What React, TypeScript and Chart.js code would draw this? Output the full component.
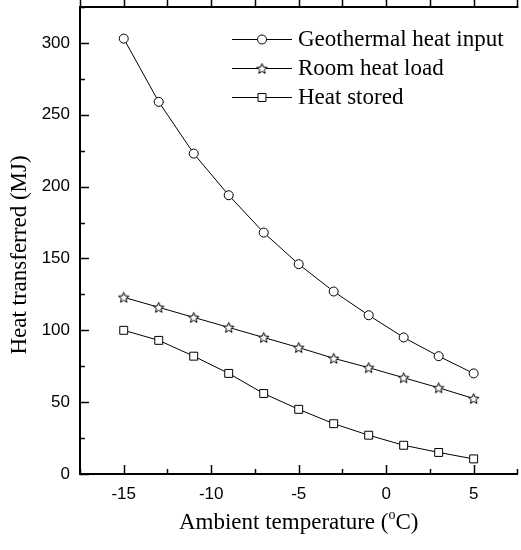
import React, { useEffect, useRef } from 'react';
import { Chart, registerables } from 'chart.js';

Chart.register(...registerables);

const temperatures = [-15, -13, -11, -9, -7, -5, -3, -1, 1, 3, 5];
const geothermalHeatInput = [303, 259, 223, 194, 168, 146, 127, 110.5, 95, 82, 70];
const roomHeatLoad = [123, 116, 109, 102, 95, 88, 80.5, 74, 67, 60, 52.5];
const heatStored = [100, 93, 82, 70, 56, 45, 35, 27, 20, 15, 10.5];
const seriesLabels = ['Geothermal heat input', 'Room heat load', 'Heat stored'];
const xTickValues = [-15, -10, -5, 0, 5];
const xMinorTickValues = [-17.5, -12.5, -7.5, -2.5, 2.5, 7.5];
const yTickValues = [0, 50, 100, 150, 200, 250, 300];
const yMinorTickValues = [25, 75, 125, 175, 225, 275, 325];
const xTitleParts = ['Ambient temperature (', 'o', 'C)'];
const yTitle = 'Heat transferred (MJ)';

const SERIF = '"Liberation Serif", "Times New Roman", serif';
const SANS = '"Liberation Sans", Arial, sans-serif';

function makeStar(): HTMLCanvasElement {
  const c = document.createElement('canvas');
  c.width = 13;
  c.height = 13;
  const ctx = c.getContext('2d')!;
  ctx.beginPath();
  for (let i = 0; i < 10; i++) {
    const r = i % 2 === 0 ? 5.5 : 2.4;
    const a = -Math.PI / 2 + (i * Math.PI) / 5;
    const px = 6.5 + r * Math.cos(a);
    const py = 7 + r * Math.sin(a);
    if (i === 0) ctx.moveTo(px, py);
    else ctx.lineTo(px, py);
  }
  ctx.closePath();
  ctx.fillStyle = '#fff';
  ctx.fill();
  ctx.lineWidth = 1;
  ctx.strokeStyle = '#000';
  ctx.stroke();
  return c;
}

function line(ctx: CanvasRenderingContext2D, x1: number, y1: number, x2: number, y2: number) {
  ctx.beginPath();
  ctx.moveTo(x1, y1);
  ctx.lineTo(x2, y2);
  ctx.stroke();
}

export default function App() {
  const ref = useRef<HTMLCanvasElement>(null);

  useEffect(() => {
    const star = makeStar();
    const toPoints = (arr: number[]) => temperatures.map((x, i) => ({ x, y: arr[i] }));
    const common = {
      borderColor: '#000',
      borderWidth: 1,
      pointBackgroundColor: '#fff',
      pointBorderColor: '#000',
      pointBorderWidth: 1,
      tension: 0,
      fill: false,
    };

    const overlay = {
      id: 'overlay',
      afterDraw(chart: any) {
        const ctx: CanvasRenderingContext2D = chart.ctx;
        const { left, right, top, bottom } = chart.chartArea;
        const xs = chart.scales.x;
        const ys = chart.scales.y;
        ctx.save();
        ctx.strokeStyle = '#000';
        // top frame line
        ctx.lineWidth = 2;
        line(ctx, left - 1, top, right + 1, top);
        // ticks
        ctx.lineWidth = 1.5;
        for (const v of xTickValues) {
          const px = Math.round(xs.getPixelForValue(v)) + 0.5;
          line(ctx, px, bottom, px, bottom - 9);
          line(ctx, px, top, px, top - 8);
        }
        for (const v of xMinorTickValues) {
          const px = Math.round(xs.getPixelForValue(v)) + 0.5;
          line(ctx, px, bottom, px, bottom - 5);
          line(ctx, px, top, px, top - 8);
        }
        for (const v of yTickValues) {
          const py = Math.round(ys.getPixelForValue(v)) + 0.5;
          line(ctx, left, py, left + 9, py);
        }
        for (const v of yMinorTickValues) {
          const py = Math.round(ys.getPixelForValue(v)) + 0.5;
          line(ctx, left, py, left + 5, py);
        }

        // legend
        const rows = [39, 68, 97];
        const lx1 = 232, lx2 = 292, mx = 262, tx = 298;
        chart.data.datasets.forEach((ds: any, i: number) => {
          const y = rows[i];
          ctx.lineWidth = 1;
          ctx.strokeStyle = '#000';
          line(ctx, lx1, y + 0.5, lx2, y + 0.5);
          ctx.fillStyle = '#fff';
          if (ds.pointStyle === 'circle') {
            ctx.beginPath();
            ctx.arc(mx, y + 0.5, ds.pointRadius, 0, Math.PI * 2);
            ctx.fill();
            ctx.stroke();
          } else if (ds.pointStyle === 'rect') {
            const s = ds.pointRadius * Math.SQRT1_2;
            ctx.beginPath();
            ctx.rect(mx - s, y + 0.5 - s, 2 * s, 2 * s);
            ctx.fill();
            ctx.stroke();
          } else {
            const img = ds.pointStyle as HTMLCanvasElement;
            ctx.drawImage(img, mx - img.width / 2, y + 0.5 - img.height / 2);
          }
          ctx.fillStyle = '#000';
          ctx.font = `23px ${SERIF}`;
          ctx.textAlign = 'left';
          ctx.textBaseline = 'middle';
          ctx.fillText(ds.label, tx, y + 1);
        });

        // x title with superscript
        ctx.fillStyle = '#000';
        ctx.textBaseline = 'alphabetic';
        ctx.textAlign = 'left';
        const bigFont = `23px ${SERIF}`;
        const smallFont = `14px ${SERIF}`;
        ctx.font = bigFont;
        const w1 = ctx.measureText(xTitleParts[0]).width;
        const w3 = ctx.measureText(xTitleParts[2]).width;
        ctx.font = smallFont;
        const w2 = ctx.measureText(xTitleParts[1]).width;
        const total = w1 + w2 + w3;
        const cx = (left + right) / 2;
        let x0 = cx - total / 2;
        const base = 529;
        ctx.font = bigFont;
        ctx.fillText(xTitleParts[0], x0, base);
        ctx.font = smallFont;
        ctx.fillText(xTitleParts[1], x0 + w1, base - 10);
        ctx.font = bigFont;
        ctx.fillText(xTitleParts[2], x0 + w1 + w2, base);

        // y title
        ctx.save();
        ctx.translate(20, 255);
        ctx.rotate(-Math.PI / 2);
        ctx.font = bigFont;
        ctx.textAlign = 'center';
        ctx.textBaseline = 'middle';
        ctx.fillText(yTitle, 0, 0);
        ctx.restore();

        ctx.restore();
      },
    };

    const chart = new Chart(ref.current!, {
      type: 'line',
      data: {
        datasets: [
          { ...common, label: seriesLabels[0], data: toPoints(geothermalHeatInput), pointStyle: 'circle', pointRadius: 4.5, pointHoverRadius: 4.5 },
          { ...common, label: seriesLabels[1], data: toPoints(roomHeatLoad), pointStyle: star as any, pointRadius: 5, pointHoverRadius: 5 },
          { ...common, label: seriesLabels[2], data: toPoints(heatStored), pointStyle: 'rect', pointRadius: 5.6, pointHoverRadius: 5.6 },
        ],
      },
      options: {
        responsive: false,
        animation: false,
        devicePixelRatio: 1,
        events: [],
        layout: { padding: { left: 0, top: 7, right: 1.5, bottom: 0 } },
        plugins: { legend: { display: false }, tooltip: { enabled: false }, title: { display: false } },
        scales: {
          x: {
            type: 'linear',
            position: 'bottom',
            min: -17.5,
            max: 7.5,
            afterBuildTicks: (s: any) => {
              s.ticks = xTickValues.map((v) => ({ value: v }));
            },
            afterFit: (s: any) => {
              s.height = 76;
              s.paddingLeft = 0;
              s.paddingRight = 0;
            },
            grid: { display: false, drawTicks: false },
            border: { display: true, color: '#000', width: 2 },
            ticks: {
              color: '#000',
              font: { family: SANS, size: 17 },
              padding: 10,
              maxRotation: 0,
              autoSkip: false,
              callback: (v: any) => String(v),
            },
          },
          y: {
            type: 'linear',
            position: 'left',
            min: 0,
            max: 325,
            afterBuildTicks: (s: any) => {
              s.ticks = yTickValues.map((v) => ({ value: v }));
            },
            afterFit: (s: any) => {
              s.width = 80;
              s.paddingTop = 0;
              s.paddingBottom = 0;
            },
            grid: { display: false, drawTicks: false },
            border: { display: true, color: '#000', width: 2 },
            ticks: {
              color: '#000',
              font: { family: SANS, size: 17 },
              padding: 10,
              autoSkip: false,
              callback: (v: any) => String(v),
            },
          },
        },
      },
      plugins: [overlay],
    } as any);
    return () => chart.destroy();
  }, []);

  return (
    <div style={{ position: 'absolute', left: 0, top: 0, width: 521, height: 550, overflow: 'hidden', background: '#fff' }}>
      <canvas ref={ref} width={524} height={550} style={{ display: 'block', width: 524, height: 550 }} />
    </div>
  );
}
